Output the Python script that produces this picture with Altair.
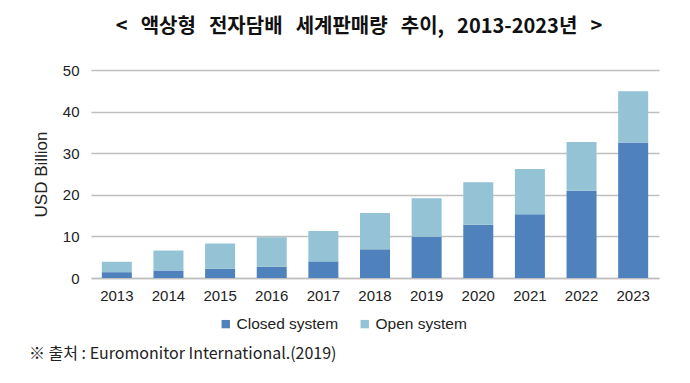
import altair as alt
import pandas as pd

years = ["2013", "2014", "2015", "2016", "2017", "2018", "2019", "2020", "2021", "2022", "2023"]
closed = [1.4, 1.8, 2.2, 2.7, 4.0, 6.9, 9.9, 12.8, 15.3, 21.0, 32.6]
total = [3.9, 6.6, 8.3, 9.8, 11.3, 15.6, 19.2, 23.0, 26.2, 32.7, 44.9]
open_sys = [round(t - c, 2) for t, c in zip(total, closed)]
series = ["Closed system", "Open system"]
colors = ["#4F81BD", "#93C3D4"]

rows = []
for y, c, o in zip(years, closed, open_sys):
    rows.append({"year": y, "series": series[0], "value": c, "order": 0})
    rows.append({"year": y, "series": series[1], "value": o, "order": 1})
df = pd.DataFrame(rows)

font = "Liberation Sans"
sp = "\u00a0\u00a0\u2009"
title_text = sp.join(["<", "액상형", "전자담배", "세계판매량", "추이,", "2013-2023년", ">"])

bars = alt.Chart(df).mark_bar(size=30).encode(
    x=alt.X("year:N", sort=years, title=None,
            scale=alt.Scale(paddingInner=0.42, paddingOuter=0.21),
            axis=alt.Axis(labelAngle=0, labelFont=font, labelFontSize=15, labelColor="#222222",
                          ticks=False, domainColor="#BFBFBF", domainWidth=1.5, labelPadding=10)),
    y=alt.Y("value:Q", stack="zero", title="USD Billion",
            scale=alt.Scale(domain=[0, 50]),
            axis=alt.Axis(values=[0, 10, 20, 30, 40, 50], labelFont=font, labelFontSize=15,
                          labelColor="#222222", titleFont=font, titleFontSize=17,
                          titleFontWeight="normal", titleColor="#222222", titlePadding=12,
                          ticks=False, domain=False, gridColor="#BFBFBF", gridWidth=1.5,
                          labelPadding=12)),
    color=alt.Color("series:N", sort=series,
                    scale=alt.Scale(domain=series, range=colors),
                    legend=alt.Legend(title=None, orient="none", direction="horizontal",
                                      legendX=127, legendY=246, symbolType="square",
                                      symbolSize=70, symbolStrokeWidth=0, labelFont=font,
                                      labelFontSize=15.5, labelColor="#222222", columnPadding=18,
                                      labelOffset=3)),
    order=alt.Order("order:Q"),
)

source_df = pd.DataFrame({"t": ["※ 출처 : Euromonitor International.(2019)"]})
source = alt.Chart(source_df).mark_text(
    align="left", baseline="middle", font="Noto Sans CJK KR", fontSize=16, color="#222222"
).encode(x=alt.value(-62), y=alt.value(284), text="t:N")

chart = alt.layer(bars, source).properties(
    width=568, height=208,
    autosize=alt.AutoSizeParams(type="none"),
    padding={"left": 83, "top": 62, "right": 23, "bottom": 97},
    title=alt.TitleParams(title_text,
                          font="Noto Sans CJK KR", fontSize=20, fontWeight="bold",
                          color="#111111", anchor="middle", dx=-16, offset=26),
).configure_view(stroke=None)

chart.save("out.html", embed_options={"renderer": "svg", "actions": False})
